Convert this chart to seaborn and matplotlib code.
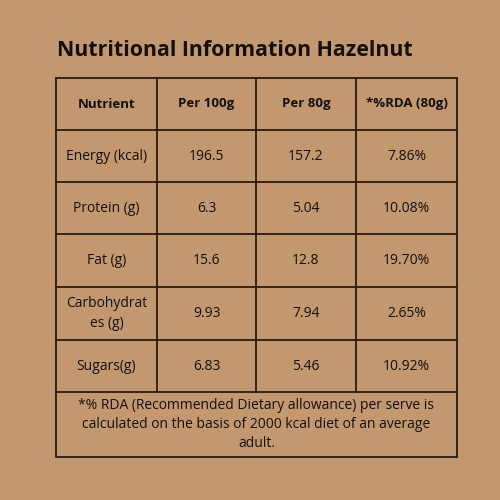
import matplotlib
matplotlib.use("Agg")
import matplotlib.pyplot as plt
import seaborn as sns

sns.set_theme(style="white")
plt.rcParams['font.family'] = ['Open Sans', 'DejaVu Sans']

title = "Nutritional Information Hazelnut"
headers = ["Nutrient", "Per 100g", "Per 80g", "*%RDA (80g)"]
nutrients = ["Energy (kcal)", "Protein (g)", "Fat (g)", "Carbohydrat\nes (g)", "Sugars(g)"]
per100 = ["196.5", "6.3", "15.6", "9.93", "6.83"]
per80 = ["157.2", "5.04", "12.8", "7.94", "5.46"]
rda = ["7.86%", "10.08%", "19.70%", "2.65%", "10.92%"]
footer = ("*% RDA (Recommended Dietary allowance) per serve is\n"
          "calculated on the basis of 2000 kcal diet of an average\nadult.")

bg = "#C4986F"
fig = plt.figure(figsize=(5, 5), dpi=100, facecolor=bg)
ax = fig.add_axes([0, 0, 1, 1])
ax.set_xlim(0, 500); ax.set_ylim(500, 0); ax.axis("off")
ax.set_facecolor(bg)

xs = [56, 157, 256, 356, 457]
ys = [78, 130, 182, 234, 287, 340, 392, 457]
lc = "#2a1a10"
for y in ys:
    ax.plot([xs[0], xs[-1]], [y, y], color=lc, lw=1.3)
for x in xs:
    ax.plot([x, x], [ys[0], ys[-2] if x not in (xs[0], xs[-1]) else ys[-1]], color=lc, lw=1.3)

ax.text(57, 50, title, fontsize=15.4, fontweight="bold", color="#111", va="center", ha="left")

for j, h in enumerate(headers):
    ax.text((xs[j] + xs[j+1]) / 2, (ys[0] + ys[1]) / 2, h, fontsize=9.5, fontweight="bold",
            ha="center", va="center", color="#111")
rows = list(zip(nutrients, per100, per80, rda))
for i, r in enumerate(rows):
    for j, v in enumerate(r):
        ax.text((xs[j] + xs[j+1]) / 2, (ys[i+1] + ys[i+2]) / 2, v, fontsize=10,
                ha="center", va="center", color="#111", linespacing=1.5)
ax.text((xs[0] + xs[-1]) / 2, (ys[-2] + ys[-1]) / 2, footer, fontsize=10, ha="center",
        va="center", color="#111", linespacing=1.4)

fig.savefig("out.png", dpi=100, facecolor=bg)
